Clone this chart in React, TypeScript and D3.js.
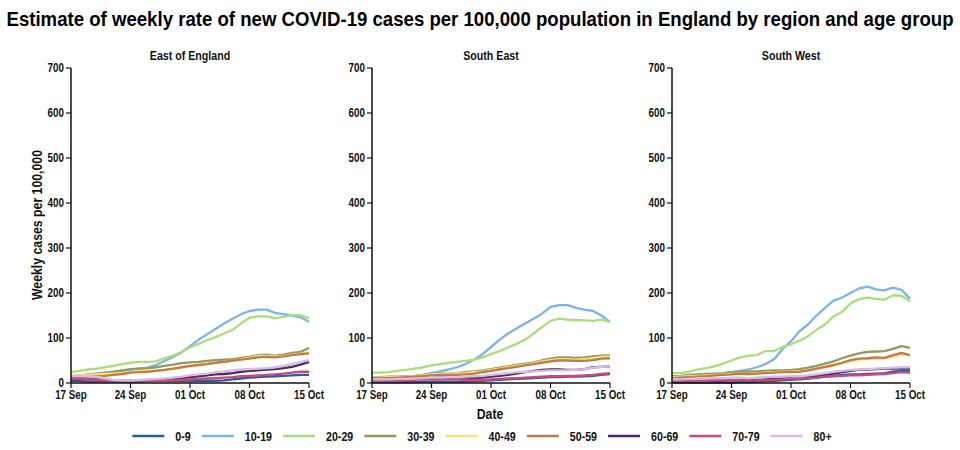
import React from "react";
import * as d3 from "d3";

const ageGroups = ["0-9", "10-19", "20-29", "30-39", "40-49", "50-59", "60-69", "70-79", "80+"];
const colors = ["#2c5ba6", "#7db4e6", "#addb7e", "#8d9c5f", "#f3e57c", "#c47a44", "#4d2b5c", "#c9497c", "#d9bce6"];
const regions = ["East of England", "South East", "South West"];
const xTickLabels = ["17 Sep", "24 Sep", "01 Oct", "08 Oct", "15 Oct"];
const xTickDays = [0, 7, 14, 21, 28];
const yTicks = [0, 100, 200, 300, 400, 500, 600, 700];
const startDate = new Date(2020, 8, 17);

// East of England
const ee0_9 = [4,4,3,3,3,3,3,3,3,4,4,4,5,5,5,5,5,5,6,8,10,12,13,14,15,16,17,18,18];
const ee10_19 = [14,15,17,19,21,24,27,30,32,34,40,49,58,68,82,96,108,120,132,143,153,160,163,163,156,153,150,146,136];
const ee20_29 = [24,27,30,32,35,38,42,45,47,47,48,55,61,69,79,87,95,102,110,118,132,145,148,148,144,147,151,151,144];
const ee30_39 = [15,17,19,21,23,25,28,31,32,33,35,38,41,44,46,47,49,51,52,53,56,58,62,63,61,63,67,69,78];
const ee40_49 = [16,17,18,19,20,21,22,24,26,27,28,29,31,34,37,40,43,45,47,50,53,56,60,60,59,60,63,65,68];
const ee50_59 = [12,13,14,15,16,18,20,23,24,25,27,29,32,35,38,40,42,45,47,50,52,54,57,58,57,59,62,64,66];
const ee60_69 = [8,8,8,8,7,6,5,5,5,5,6,7,8,10,13,15,17,19,20,22,25,27,28,30,31,33,36,41,47];
const ee70_79 = [9,9,8,7,6,5,4,4,4,4,5,5,6,7,8,9,10,11,12,13,15,16,17,18,19,21,23,25,25];
const ee80 = [16,16,16,14,10,7,6,6,7,8,9,10,12,14,17,19,21,24,26,28,30,31,32,33,35,38,42,47,51];

// South East
const se0_9 = [2,2,2,2,2,2,3,3,3,3,3,3,4,5,6,7,8,9,10,11,12,13,13,14,14,15,16,18,20];
const se10_19 = [8,9,10,11,13,15,18,22,26,30,35,42,52,64,80,96,110,121,132,143,154,169,173,173,167,163,160,150,136];
const se20_29 = [23,23,24,27,29,32,35,39,42,45,47,49,52,57,64,71,79,87,96,110,124,138,143,141,140,139,138,141,136];
const se30_39 = [12,13,14,14,15,16,18,20,21,21,22,24,26,28,31,34,37,40,43,46,50,54,57,57,56,57,59,61,62];
const se40_49 = [11,12,13,13,14,15,17,19,20,20,21,22,24,26,29,32,35,38,41,44,48,51,53,53,52,53,55,58,59];
const se50_59 = [10,10,11,12,13,14,15,17,18,18,18,19,21,24,27,30,33,36,39,42,45,48,50,50,49,49,51,54,55];
const se60_69 = [4,5,6,7,8,9,10,11,12,12,12,12,11,12,14,16,18,21,24,27,29,30,30,29,29,31,35,36,37];
const se70_79 = [4,4,4,5,6,7,8,8,8,8,8,7,7,7,8,9,10,11,12,13,14,15,15,16,16,17,18,20,22];
const se80 = [8,8,8,9,9,10,11,12,12,13,13,14,15,16,18,20,22,24,25,26,27,28,28,28,29,31,34,36,37];

// South West
const sw0_9 = [1,1,1,1,1,1,1,1,2,2,3,4,5,6,7,8,10,12,14,16,18,19,19,20,21,22,25,28,27];
const sw10_19 = [15,15,16,17,18,19,21,24,27,30,35,42,53,75,93,115,130,150,167,183,190,200,210,214,208,206,212,207,187];
const sw20_29 = [22,22,25,30,33,37,43,50,57,61,62,71,71,80,86,94,104,118,130,148,158,177,186,190,187,185,195,194,181];
const sw30_39 = [15,16,18,19,20,21,22,24,25,25,26,27,28,28,29,31,34,38,43,48,55,61,66,69,70,71,76,82,78];
const sw40_49 = [13,14,15,16,17,18,19,20,21,21,22,23,24,25,25,26,28,31,35,38,43,48,52,53,55,55,58,63,62];
const sw50_59 = [11,12,13,14,15,17,18,19,21,20,21,22,23,24,24,25,28,32,36,40,45,51,54,55,57,56,62,67,62];
const sw60_69 = [3,3,4,4,5,5,5,6,6,6,7,8,9,10,11,12,14,16,18,21,24,27,29,30,31,32,32,33,32];
const sw70_79 = [5,5,5,5,5,6,6,6,6,6,6,7,7,8,9,10,11,12,14,15,16,17,17,18,19,20,22,24,23];
const sw80 = [8,8,9,10,10,11,11,12,12,11,12,13,14,14,15,15,17,19,22,25,27,29,30,31,32,33,34,35,35];

const panelSeries = [
  [ee0_9, ee10_19, ee20_29, ee30_39, ee40_49, ee50_59, ee60_69, ee70_79, ee80],
  [se0_9, se10_19, se20_29, se30_39, se40_49, se50_59, se60_69, se70_79, se80],
  [sw0_9, sw10_19, sw20_29, sw30_39, sw40_49, sw50_59, sw60_69, sw70_79, sw80],
];

const FONT = "'Liberation Sans', Arial, Helvetica, sans-serif";
const NARROW = 0.82;

function NText(props: {
  x: number; y: number; size: number; anchor?: string; rotate?: number; children: React.ReactNode; fill?: string;
}) {
  const { x, y, size, anchor = "middle", rotate, children, fill = "#111" } = props;
  const tr = `translate(${x},${y})${rotate ? ` rotate(${rotate})` : ""} scale(${NARROW},1)`;
  return (
    <text transform={tr} textAnchor={anchor} fontSize={size} fontWeight="bold" fontFamily={FONT} fill={fill}>
      {children}
    </text>
  );
}

function measure(text: string, size: number): number {
  const c = document.createElement("canvas").getContext("2d");
  if (!c) return text.length * size * 0.55 * NARROW;
  c.font = `bold ${size}px 'Liberation Sans', Arial, sans-serif`;
  return c.measureText(text).width * NARROW;
}

export default function App() {
  const panelLefts = [71, 372, 672];
  const panelWidth = 238;
  const top = 68;
  const bottom = 383;
  const dates = d3.range(29).map((i) => d3.timeDay.offset(startDate, i));
  const y = d3.scaleLinear().domain([0, 700]).range([bottom, top]);

  const legSize = 13;
  const lineLen = 32;
  const gap = 11;
  const widths = ageGroups.map((g) => measure(g, legSize));
  const itemW = widths.map((w) => lineLen + gap + w + gap);
  const total = d3.sum(itemW) - gap;
  let cursor = 482 - total / 2;
  const legendItems = ageGroups.map((g, i) => {
    const x0 = cursor;
    cursor += itemW[i];
    return { g, x0, color: colors[i] };
  });
  const legY = 436;

  const title = "Estimate of weekly rate of new COVID-19 cases per 100,000 population in England by region and age group";
  const titleSize = 19.5;
  const titleScale = Math.min(1, 948 / (measure(title, titleSize) / NARROW));

  return (
    <svg width={960} height={450} style={{ position: "absolute", left: 0, top: 0, background: "#fff" }}>
      <g transform={`translate(480,26) scale(${titleScale},1)`}>
        <text x={0} y={0} textAnchor="middle" fontSize={titleSize} fontWeight="bold" fontFamily={FONT} fill="#000">
          {title}
        </text>
      </g>
      {regions.map((r, pi) => {
        const x = d3.scaleTime().domain([dates[0], dates[28]]).range([panelLefts[pi], panelLefts[pi] + panelWidth]);
        const line = d3.line<number>().x((_, i) => x(dates[i])).y((v) => y(v));
        const x0 = panelLefts[pi];
        return (
          <g key={r}>
            <NText x={x0 + panelWidth / 2} y={60} size={13}>{r}</NText>
            {panelSeries[pi].map((s, si) => (
              <path key={si} d={line(s) || ""} fill="none" stroke={colors[si]} strokeWidth={2.3} strokeLinejoin="round" />
            ))}
            <line x1={x0} x2={x0} y1={top} y2={bottom} stroke="#111" strokeWidth={1.5} />
            <line x1={x0} x2={x0 + panelWidth} y1={bottom} y2={bottom} stroke="#111" strokeWidth={1.5} />
            {yTicks.map((t) => (
              <g key={t}>
                <line x1={x0 - 5} x2={x0} y1={y(t)} y2={y(t)} stroke="#111" strokeWidth={1.2} />
                <NText x={x0 - 7} y={y(t) + 4} size={12} anchor="end">{t}</NText>
              </g>
            ))}
            {xTickDays.map((d, ti) => (
              <g key={d}>
                <line x1={x(dates[d])} x2={x(dates[d])} y1={bottom} y2={bottom + 5} stroke="#111" strokeWidth={1.2} />
                <NText x={x(dates[d])} y={399} size={12}>{xTickLabels[ti]}</NText>
              </g>
            ))}
          </g>
        );
      })}
      <NText x={42} y={225} size={15} rotate={-90}>Weekly cases per 100,000</NText>
      <NText x={490} y={419} size={15}>Date</NText>
      {legendItems.map((it) => (
        <g key={it.g}>
          <line x1={it.x0} x2={it.x0 + lineLen} y1={legY} y2={legY} stroke={it.color} strokeWidth={2.5} />
          <NText x={it.x0 + lineLen + gap} y={legY + 4.5} size={legSize} anchor="start">{it.g}</NText>
        </g>
      ))}
    </svg>
  );
}
